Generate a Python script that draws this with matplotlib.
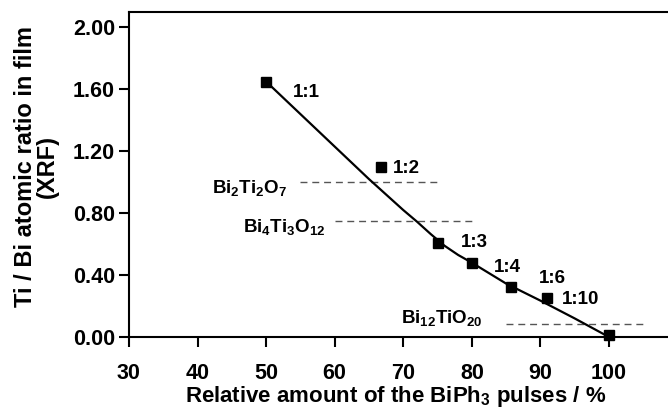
import matplotlib
matplotlib.use('Agg')
import matplotlib.pyplot as plt

plt.rcParams['font.family'] = ['Liberation Sans', 'DejaVu Sans']
plt.rcParams['font.weight'] = 'bold'
plt.rcParams['mathtext.fontset'] = 'custom'
plt.rcParams['mathtext.rm'] = 'Liberation Sans:bold'
plt.rcParams['mathtext.default'] = 'regular'

# measured points (relative BiPh3 pulses %, Ti/Bi ratio)
pulse_pct = [50, 66.7, 75, 80, 85.7, 90.9, 100]
ti_bi = [1.65, 1.10, 0.61, 0.48, 0.32, 0.25, 0.01]
ratio_labels = ['1:1', '1:2', '1:3', '1:4', '1:6', '1:10']
label_x = [55.9, 70.4, 80.4, 85.2, 91.7, 95.8]
label_y = [1.58, 1.09, 0.61, 0.45, 0.38, 0.24]

# guide curve
curve_x = [50, 55, 60, 65, 70, 72, 74, 76, 78, 80, 85, 90, 95, 100]
curve_y = [1.65, 1.44, 1.23, 1.02, 0.82, 0.745, 0.665, 0.59, 0.53, 0.48, 0.345, 0.235, 0.12, 0.0]

# reference phases
phase_names = [r'Bi$_2$Ti$_2$O$_7$', r'Bi$_4$Ti$_3$O$_{12}$', r'Bi$_{12}$TiO$_{20}$']
phase_ratio = [1.0, 0.75, 0.083]
phase_x0 = [55, 60, 85]
phase_x1 = [75, 80, 105]
phase_lx = [53.0, 58.6, 81.6]
phase_ly = [0.96, 0.71, 0.12]


def main():
    fig = plt.figure(figsize=(6.68, 4.09), dpi=100)
    ax = fig.add_axes([0.193, 0.176, 0.807, 0.795])
    ax.spines['right'].set_visible(False)
    for s in ['left', 'bottom', 'top']:
        ax.spines[s].set_linewidth(1.5)

    for name, r, x0, x1, lx, ly in zip(phase_names, phase_ratio, phase_x0, phase_x1, phase_lx, phase_ly):
        ax.plot([x0, x1], [r, r], color='#555555', lw=1.0, ls=(0, (5, 3.5)))
        ax.text(lx, ly, name, ha='right', va='center', fontsize=13.5, fontweight='bold')

    ax.plot(curve_x, curve_y, color='black', lw=1.6)
    ax.plot(pulse_pct, ti_bi, 's', color='black', markersize=6.5, clip_on=False)

    for lab, x, y in zip(ratio_labels, label_x, label_y):
        ax.text(x, y, lab, ha='center', va='center', fontsize=13.5, fontweight='bold')

    ax.set_xlim(30, 108.6)
    ax.set_ylim(0, 2.1)
    ax.set_xticks(range(30, 101, 10))
    ax.set_yticks([0, 0.4, 0.8, 1.2, 1.6, 2.0])
    ax.set_yticklabels(['%.2f' % v for v in [0, 0.4, 0.8, 1.2, 1.6, 2.0]])
    ax.tick_params(axis='x', direction='out', length=7, width=1.5, pad=12, labelsize=15.5)
    ax.tick_params(axis='y', direction='out', length=7, width=1.5, pad=3, labelsize=15.5)

    ax.set_xlabel(r'Relative amount of the BiPh$_3$ pulses / %', fontsize=16, fontweight='bold')
    ax.xaxis.set_label_coords(0.495, -0.146)
    ax.set_ylabel('Ti / Bi atomic ratio in film\n(XRF)', fontsize=17, fontweight='bold',
                  linespacing=0.95)
    ax.yaxis.set_label_coords(-0.13, 0.523)

    fig.savefig('out.png', dpi=100)


if __name__ == '__main__':
    main()
